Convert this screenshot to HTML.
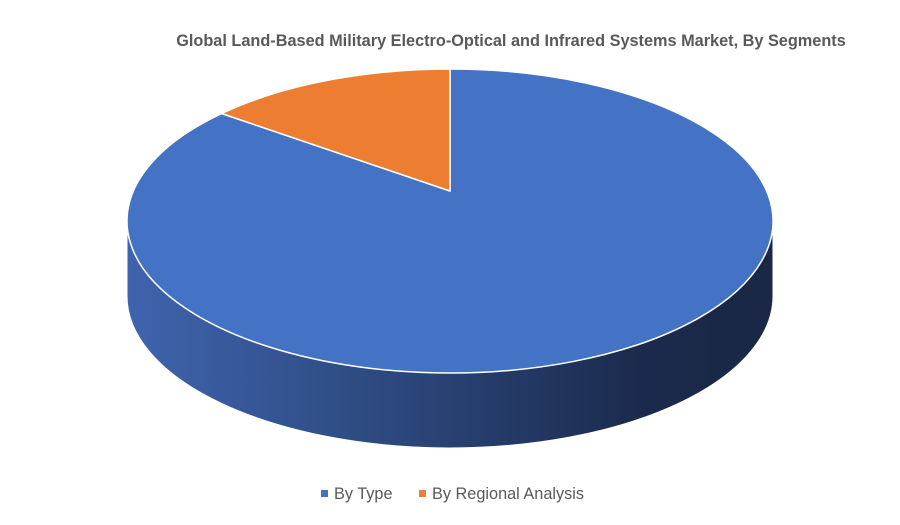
<!DOCTYPE html>
<html><head><meta charset="utf-8"><style>
body{margin:0;background:#fff;}
svg{display:block;font-family:"Liberation Sans",sans-serif;}
</style></head><body>
<svg id="chart" width="900" height="525" viewBox="0 0 900 525">
<defs>
<linearGradient id="sideGrad" x1="127" y1="0" x2="773" y2="0" gradientUnits="userSpaceOnUse">
<stop offset="0" stop-color="#3f64ae"/>
<stop offset="0.45" stop-color="#2a4578"/>
<stop offset="0.8" stop-color="#1b2a4c"/>
<stop offset="1" stop-color="#1a2745"/>
</linearGradient>
</defs>
<text x="511" y="46" text-anchor="middle" font-size="16.3" font-weight="bold" fill="#595959">Global Land-Based Military Electro-Optical and Infrared Systems Market, By Segments</text>
<g id="pie"></g>
<g>
<rect x="321" y="490" width="7" height="7" fill="#4472c4"/>
<text x="334" y="499" font-size="16.3" fill="#595959">By Type</text>
<rect x="419" y="490" width="7" height="7" fill="#ed7d31"/>
<text x="432" y="499" font-size="16.3" fill="#595959">By Regional Analysis</text>
</g>
</svg>
<script>
const categories = ["By Type", "By Regional Analysis"];
const values = [87.5, 12.5];
const colors = ["#4472c4", "#ed7d31"];

const cx = 450, cy = 221, rx = 323, ry = 152, depth = 75, apexY = 191;
const g = document.getElementById('pie');
const ns = 'http://www.w3.org/2000/svg';
function pt(a, dy){ return [cx + rx*Math.cos(a), cy + (dy||0) + ry*Math.sin(a)]; }
const total = values.reduce((a,b)=>a+b,0);

let start = -Math.PI/2;
const slices = values.map((v,i)=>{ const s=start; const e=s+v/total*2*Math.PI; start=e; return {s,e,i}; });
slices.forEach(sl=>{
  for (let k=-1;k<=1;k++){
    const a0=Math.max(sl.s, 0+2*Math.PI*k), a1=Math.min(sl.e, Math.PI+2*Math.PI*k);
    if (a1<=a0) continue;
    const p0=pt(a0), p1=pt(a1), q1=pt(a1,depth), q0=pt(a0,depth);
    const large=(a1-a0)>Math.PI?1:0;
    const side=document.createElementNS(ns,'path');
    side.setAttribute('d',`M${p0} A${rx},${ry} 0 ${large} 1 ${p1} L${q1} A${rx},${ry} 0 ${large} 0 ${q0} Z`);
    side.setAttribute('fill', sl.i===0?'url(#sideGrad)':'#a0521c');
    side.setAttribute('stroke','#ffffff');
    side.setAttribute('stroke-width','1');
    
    
    g.appendChild(side);
  }
});
slices.forEach(sl=>{
  const p0=pt(sl.s), p1=pt(sl.e);
  const large=(sl.e-sl.s)>Math.PI?1:0;
  const top=document.createElementNS(ns,'path');
  top.setAttribute('d',`M${cx},${apexY} L${p0} A${rx},${ry} 0 ${large} 1 ${p1} Z`);
  top.setAttribute('fill',colors[sl.i]);
  top.setAttribute('stroke','#ffffff');
  top.setAttribute('stroke-width','1.5');
  top.setAttribute('stroke-linejoin','round');
  
  
  g.appendChild(top);
});
</script>
</body></html>
